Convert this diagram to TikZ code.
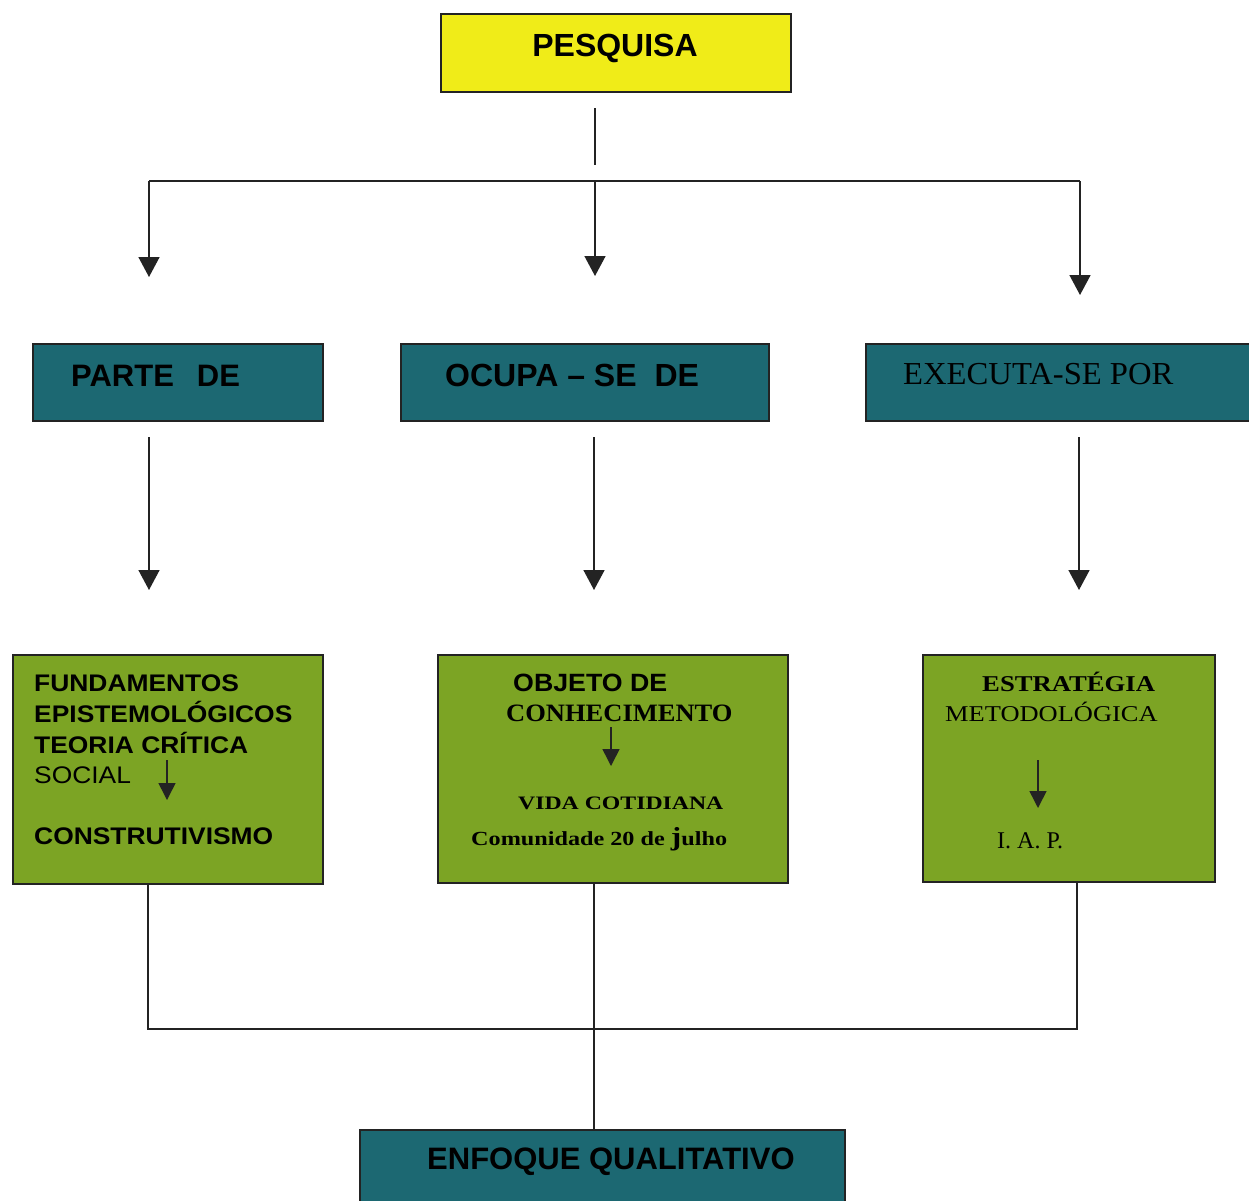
\documentclass[tikz,border=0pt]{standalone}
\usepackage{fontspec}
\usepackage{graphicx}
\setmainfont{Liberation Serif}
\newfontfamily\arialf{Liberation Sans}
\newfontfamily\tnrf{Liberation Serif}
\usetikzlibrary{arrows.meta,calc}
\definecolor{pyellow}{RGB}{240,236,24}
\definecolor{pteal}{RGB}{28,104,114}
\definecolor{pgreen}{RGB}{124,164,36}
\definecolor{pline}{RGB}{35,35,35}
\newcommand\fsz[1]{\fontsize{#1}{#1}\selectfont}
\begin{document}
\begin{tikzpicture}[x=1pt,y=-1pt,
  box/.style={draw=pline, line width=1.8pt, inner sep=0pt, outer sep=0pt, anchor=north west},
  lbl/.style={inner sep=0pt, anchor=base west, text=black},
  conn/.style={draw=pline, line width=1.5pt},
  arr/.style={conn, -{Triangle[width=21pt,length=20pt]}},
  smallarr/.style={conn, -{Triangle[width=17pt,length=17pt]}},
]
\clip (0,0) rectangle (1249,1200);
\fill[white] (0,0) rectangle (1249,1200);

% boxes
\node[box, fill=pyellow, minimum width=350pt, minimum height=78pt] (pesq) at (441,14) {};
\node[box, fill=pteal, minimum width=290pt, minimum height=77pt] (parte) at (33,344) {};
\node[box, fill=pteal, minimum width=368pt, minimum height=77pt] (ocupa) at (401,344) {};
\node[box, fill=pteal, minimum width=400pt, minimum height=77pt] (exec) at (866,344) {};
\node[box, fill=pgreen, minimum width=310pt, minimum height=229pt] (fund) at (13,655) {};
\node[box, fill=pgreen, minimum width=350pt, minimum height=228pt] (obj) at (438,655) {};
\node[box, fill=pgreen, minimum width=292pt, minimum height=227pt] (estr) at (923,655) {};
\node[box, fill=pteal, minimum width=485pt, minimum height=90pt] (enf) at (360,1130) {};

% texts
\node[lbl, anchor=base, font=\arialf\bfseries\fsz{32}] (tpesq) at (615,56) {PESQUISA};
\node[lbl, font=\arialf\bfseries\fsz{31}] (tparte) at (71,386) {PARTE\hspace{23pt}DE};
\node[lbl, font=\arialf\bfseries\fsz{32}] (tocupa) at (445,386) {OCUPA – SE\hspace{18pt}DE};
\node[lbl, font=\tnrf\fsz{32}] (texec) at (903,384) {\scalebox{1.02}[1]{EXECUTA-SE POR}};

\node[lbl, font=\arialf\bfseries\fsz{24}] (f1) at (34,691) {\scalebox{1.1}[1]{FUNDAMENTOS}};
\node[lbl, font=\arialf\bfseries\fsz{24}] (f2) at (34,722) {\scalebox{1.1}[1]{EPISTEMOLÓGICOS}};
\node[lbl, font=\arialf\bfseries\fsz{24}] (f3) at (34,753) {\scalebox{1.1}[1]{TEORIA CRÍTICA}};
\node[lbl, font=\arialf\fsz{24}] (f4) at (34,783) {\scalebox{1.1}[1]{SOCIAL}};
\node[lbl, font=\arialf\bfseries\fsz{24}] (f5) at (34,844) {\scalebox{1.1}[1]{CONSTRUTIVISMO}};

\node[lbl, font=\arialf\bfseries\fsz{25}] (o1) at (513,691) {\scalebox{1.07}[1]{OBJETO DE}};
\node[lbl, font=\tnrf\bfseries\fsz{25}] (o2) at (506,721) {\scalebox{1.06}[1]{CONHECIMENTO}};
\node[lbl, font=\tnrf\bfseries\fsz{19}] (o3) at (518,809) {\scalebox{1.25}[1]{VIDA COTIDIANA}};
\node[lbl, font=\tnrf\bfseries\fsz{20}] (o4) at (471,845) {\scalebox{1.21}[1]{Comunidade 20 de {\fsz{26}j}ulho}};

\node[lbl, font=\tnrf\bfseries\fsz{22.6}] (e1) at (982,691) {\scalebox{1.18}[1]{ESTRATÉGIA}};
\node[lbl, font=\tnrf\fsz{22.6}] (e2) at (945,721) {\scalebox{1.17}[1]{METODOLÓGICA}};
\node[lbl, font=\tnrf\fsz{24}] (e3) at (997,848) {I.\kern6pt A.\kern6pt P.};

\node[lbl, font=\arialf\bfseries\fsz{31}] (tenf) at (427,1169) {ENFOQUE QUALITATIVO};

% connectors top
\coordinate (ptop) at (595,108);
\coordinate (pbot) at (595,165);
\draw[conn] (ptop) -- (pbot);
\coordinate (hl) at (149,181);
\coordinate (hm) at (595,181);
\coordinate (hr) at (1080,181);
\draw[conn] (hl) -- (hr);
\coordinate (a1) at (149,277);
\coordinate (a2) at (595,276);
\coordinate (a3) at (1080,295);
\draw[arr] (hl) -- (a1);
\draw[arr] (hm) -- (a2);
\draw[arr] (hr) -- (a3);

% middle arrows
\coordinate (b1s) at (149,437);
\coordinate (b1e) at (149,590);
\coordinate (b2s) at (594,437);
\coordinate (b2e) at (594,590);
\coordinate (b3s) at (1079,437);
\coordinate (b3e) at (1079,590);
\draw[arr] (b1s) -- (b1e);
\draw[arr] (b2s) -- (b2e);
\draw[arr] (b3s) -- (b3e);

% small arrows inside boxes
\coordinate (s1s) at (167,760);
\coordinate (s1e) at (167,800);
\coordinate (s2s) at (611,727);
\coordinate (s2e) at (611,766);
\coordinate (s3s) at (1038,760);
\coordinate (s3e) at (1038,808);
\draw[smallarr] (s1s) -- (s1e);
\draw[smallarr] (s2s) -- (s2e);
\draw[smallarr] (s3s) -- (s3e);

% bottom connectors
\coordinate (jl) at (148,1029);
\coordinate (jr) at (1077,1029);
\coordinate (jm) at (594,1029);
\draw[conn] (fund.south -| jl) -- (jl) -- (jr) -- (estr.south -| jr);
\draw[conn] (obj.south -| jm) -- (enf.north -| jm);
\end{tikzpicture}
\end{document}
